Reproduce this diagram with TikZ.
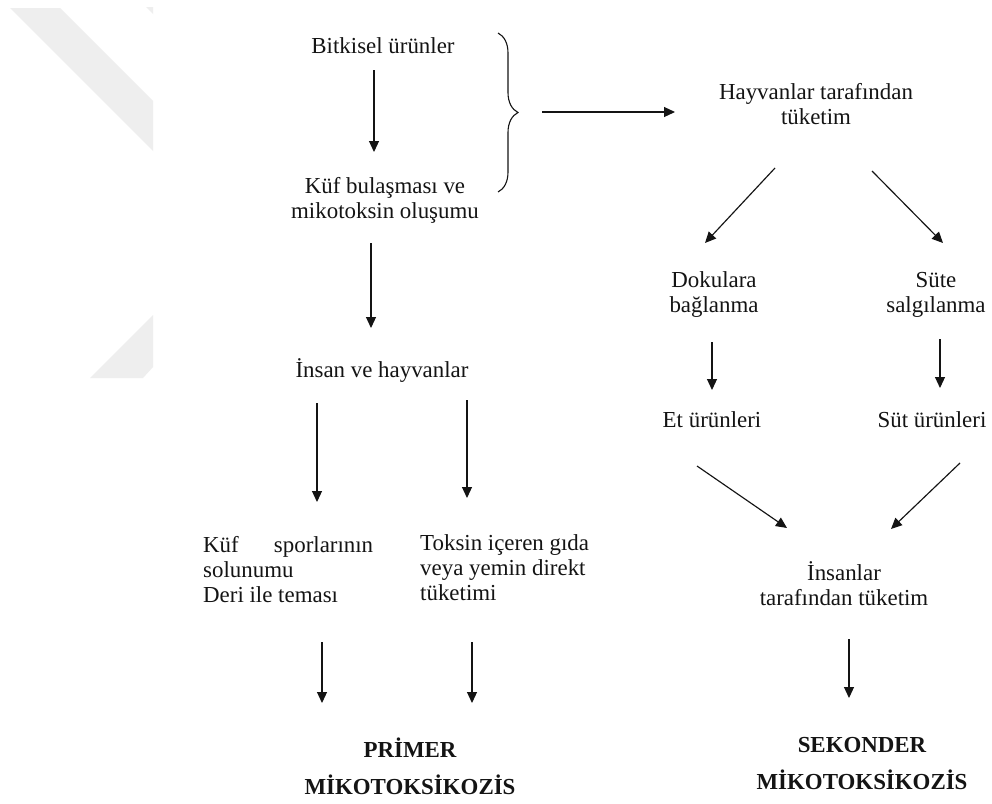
\documentclass[tikz,border=0pt]{standalone}
\usepackage{fontspec}
\setmainfont{Liberation Serif}
\usetikzlibrary{arrows.meta,decorations.pathreplacing}
\definecolor{wmgray}{RGB}{238,238,238}
\definecolor{ink}{RGB}{20,20,20}
\begin{document}
\begin{tikzpicture}[x=1pt,y=-1pt,
  txt/.style={font=\fontsize{22.9}{25}\selectfont, inner sep=0pt, anchor=base, text=ink},
  boldtxt/.style={font=\fontsize{22.9}{37}\selectfont\bfseries, inner sep=0pt, anchor=base, text=ink, align=center},
  arr/.style={draw=ink, line width=1.15pt, -{Triangle[length=11pt,width=10pt]}},
  bracestyle/.style={draw=ink, line width=1.1pt, decorate, decoration={brace, amplitude=20pt}},
  wm/.style={fill=wmgray, draw=none}
]
\useasboundingbox (0,0) rectangle (992,803);
\fill[white] (0,0) rectangle (992,803);
% watermark
\path[wm] (10,8) -- (60,8) -- (153,101) -- (153,151) -- cycle;
\path[wm] (146,7) -- (153,7) -- (153,14) -- cycle;
\path[wm] (90,378) -- (153,315) -- (153,367) -- (143,378) -- cycle;

% texts (base anchor of a multi-line node = baseline of its last line)
\node[txt] (bitki) at (383,53) {Bitkisel ürünler};
\node[txt,align=center] (kuf) at (385,218) {Küf bulaşması ve\\mikotoksin oluşumu};
\node[txt] (insan) at (382,377) {İnsan ve hayvanlar};
\node[txt,align=left,anchor=base west] (spor) at (203,602) {\hbox to 170pt{Küf\hfill sporlarının}\\solunumu\\Deri ile teması};
\node[txt,align=left,anchor=base west] (toksin) at (420,600) {Toksin içeren gıda\\veya yemin direkt\\tüketimi};
\node[boldtxt] (primer) at (410,794) {PRİMER\\MİKOTOKSİKOZİS};
\node[txt,align=center] (hayvan) at (816,124) {Hayvanlar tarafından\\tüketim};
\node[txt,align=center] (doku) at (714,312) {Dokulara\\bağlanma};
\node[txt,align=center] (sute) at (936,312) {Süte\\salgılanma};
\node[txt] (et) at (712,427) {Et ürünleri};
\node[txt] (suturun) at (932,427) {Süt ürünleri};
\node[txt,align=center] (insanlar) at (844,605) {İnsanlar\\tarafından tüketim};
\node[boldtxt] (sekonder) at (862,789) {SEKONDER\\MİKOTOKSİKOZİS};

% arrow end points
\coordinate (a1s) at (374,70);  \coordinate (a1e) at (374,152);
\coordinate (a2s) at (371,243); \coordinate (a2e) at (371,328);
\coordinate (a3s) at (317,403); \coordinate (a3e) at (317,502);
\coordinate (a4s) at (467,400); \coordinate (a4e) at (467,498);
\coordinate (a5s) at (322,642); \coordinate (a5e) at (322,703);
\coordinate (a6s) at (472,642); \coordinate (a6e) at (472,703);
\coordinate (brA) at (498,33);  \coordinate (brB) at (498,192);
\coordinate (a7s) at (542,112); \coordinate (a7e) at (675,112);
\coordinate (a8s) at (775,168); \coordinate (a8e) at (705,243);
\coordinate (a9s) at (872,171); \coordinate (a9e) at (943,243);
\coordinate (a10s) at (712,342); \coordinate (a10e) at (712,390);
\coordinate (a11s) at (940,339); \coordinate (a11e) at (940,388);
\coordinate (a12s) at (697,466); \coordinate (a12e) at (787,528);
\coordinate (a13s) at (960,463); \coordinate (a13e) at (891,529);
\coordinate (a14s) at (849,639); \coordinate (a14e) at (849,698);

\draw[arr] (a1s) -- (a1e);
\draw[arr] (a2s) -- (a2e);
\draw[arr] (a3s) -- (a3e);
\draw[arr] (a4s) -- (a4e);
\draw[arr] (a5s) -- (a5e);
\draw[arr] (a6s) -- (a6e);
\draw[bracestyle] (brA) -- (brB);
\draw[arr] (a7s) -- (a7e);
\draw[arr] (a8s) -- (a8e);
\draw[arr] (a9s) -- (a9e);
\draw[arr] (a10s) -- (a10e);
\draw[arr] (a11s) -- (a11e);
\draw[arr] (a12s) -- (a12e);
\draw[arr] (a13s) -- (a13e);
\draw[arr] (a14s) -- (a14e);
\end{tikzpicture}
\end{document}
